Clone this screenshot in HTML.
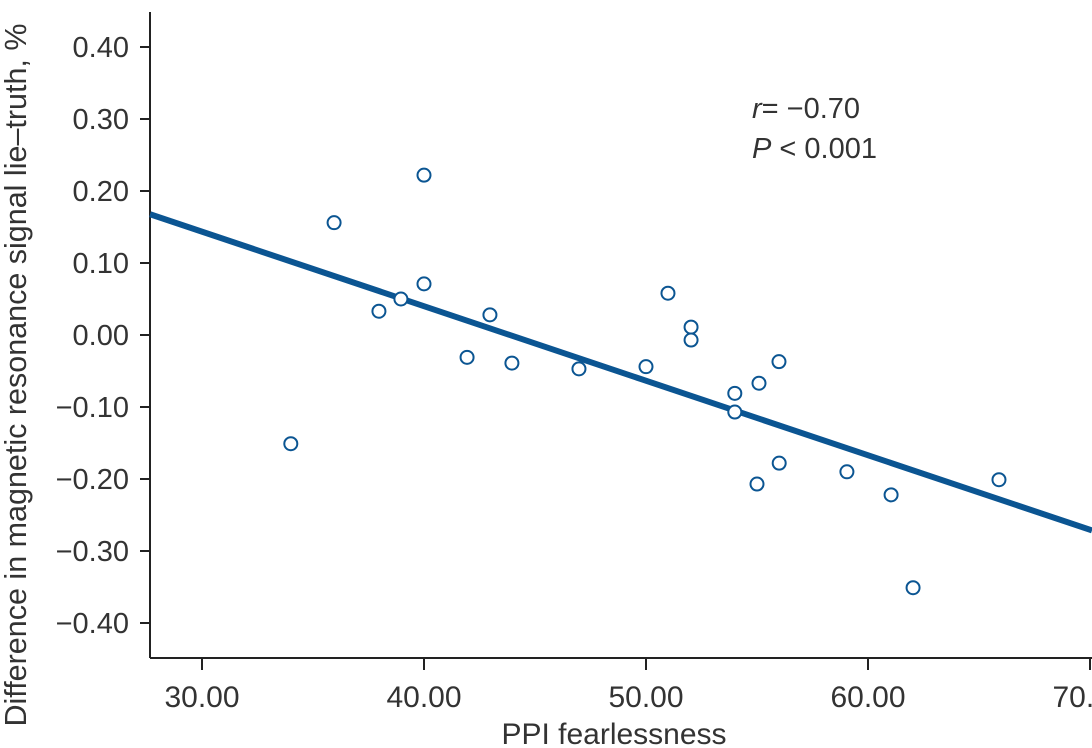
<!DOCTYPE html>
<html><head><meta charset="utf-8"><style>
html,body{margin:0;padding:0;background:#fff;}
svg{display:block;font-family:"Liberation Sans",sans-serif;}
</style></head><body>
<svg id="chart" width="1092" height="748" viewBox="0 0 1092 748">
<g id="axes"></g>
<g id="fit"></g>
<g id="pts"></g>
<text x="752" y="118" font-size="29" fill="#333"><tspan font-style="italic">r</tspan>= −0.70</text>
<text x="752" y="158" font-size="29" fill="#333"><tspan font-style="italic">P</tspan> &lt; 0.001</text>
<text x="614" y="744" font-size="30" fill="#333" text-anchor="middle">PPI fearlessness</text>
<text transform="translate(26,375) rotate(-90)" font-size="30.5" fill="#333" text-anchor="middle">Difference in magnetic resonance signal lie–truth, %</text>
</svg>
<script>
const xVals=[34.0,35.95,37.97,38.96,40,40,41.94,42.97,43.96,46.98,50,50.99,52.03,52.03,54,54,55.09,55,55.99,56,59.05,61.04,62.03,65.9];
const yVals=[-0.151,0.156,0.033,0.05,0.222,0.071,-0.031,0.028,-0.039,-0.047,-0.044,0.058,0.011,-0.007,-0.081,-0.107,-0.067,-0.207,-0.037,-0.178,-0.19,-0.222,-0.351,-0.201];
const xTicks=[30,40,50,60,70];
const yTicks=[0.4,0.3,0.2,0.1,0,-0.1,-0.2,-0.3,-0.4];
const fitSlope=[-0.01035];
const fitIntercept=[0.454];
const xDomain=[27.66,70.09];
const NS="http://www.w3.org/2000/svg";
function sx(v){return 202+(v-30)*22.2;}
function sy(v){return 335-v*720;}
function mk(t,a,p){const e=document.createElementNS(NS,t);for(const k in a)e.setAttribute(k,a[k]);p.appendChild(e);return e;}
const ax=document.getElementById('axes');
let l=mk('line',{x1:150,y1:12,x2:150,y2:658,stroke:'#222','stroke-width':2},ax);


l=mk('line',{x1:150,y1:658,x2:1092,y2:658,stroke:'#222','stroke-width':2},ax);


yTicks.forEach(v=>{
 const t=mk('line',{x1:140,x2:150,y1:sy(v),y2:sy(v),stroke:'#222','stroke-width':2},ax);
 
 
 const s=(v<0?'−':'')+Math.abs(v).toFixed(2);
 const tx=mk('text',{x:129,y:sy(v)+10,'font-size':29,fill:'#333','text-anchor':'end'},ax);
 tx.textContent=s;
 
 
});
xTicks.forEach(v=>{
 const t=mk('line',{x1:sx(v),x2:sx(v),y1:658,y2:670,stroke:'#222','stroke-width':2},ax);
 
 
 const tx=mk('text',{x:sx(v),y:707,'font-size':30,fill:'#333','text-anchor':'middle'},ax);
 tx.textContent=v.toFixed(2);
 
 
});
const f=document.getElementById('fit');
const fl=mk('line',{x1:sx(xDomain[0]),y1:sy(fitIntercept[0]+fitSlope[0]*xDomain[0]),x2:sx(xDomain[1]),y2:sy(fitIntercept[0]+fitSlope[0]*xDomain[1]),stroke:'#0b5592','stroke-width':6},f);


const pg=document.getElementById('pts');
xVals.forEach((x,i)=>{
 const c=mk('circle',{cx:sx(x),cy:sy(yVals[i]),r:6.5,fill:'#fff',stroke:'#0b5592','stroke-width':2},pg);
 
 
});
</script>
</body></html>
